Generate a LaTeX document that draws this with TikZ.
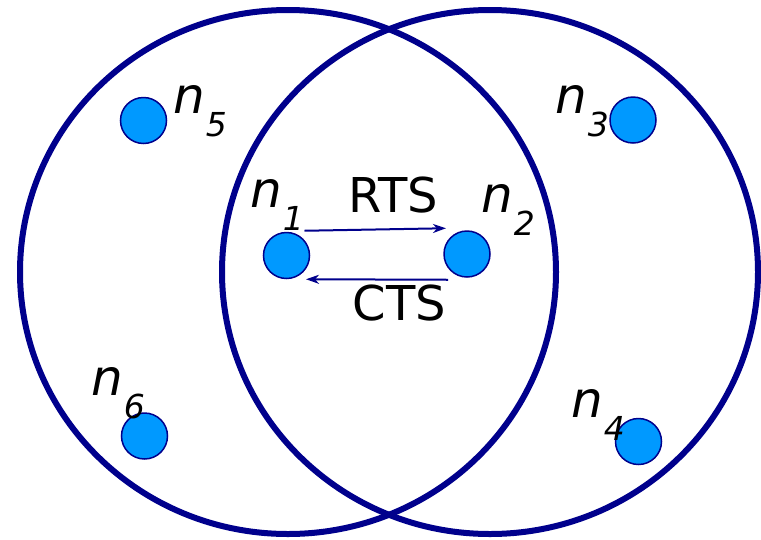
\documentclass[tikz,border=0pt]{standalone}
\usepackage{fontspec}
\setmainfont{DejaVu Sans}
\usepackage{tikz}
\usetikzlibrary{arrows.meta}
\definecolor{rangeblue}{RGB}{0,0,140}
\definecolor{dotblue}{RGB}{0,153,255}
\tikzset{station/.style={circle, draw=rangeblue, line width=1.5pt, fill=dotblue, minimum size=46pt, inner sep=0pt},
  msg/.style={draw=rangeblue, line width=2pt, -{Stealth[length=13pt, width=9pt, inset=4pt]}},
  tag/.style={anchor=base west, inner sep=0pt}}
\newcommand{\nlab}[1]{{\fontsize{50}{50}\selectfont\itshape n}\kern1pt\raisebox{-23pt}{\fontsize{33}{33}\selectfont\itshape #1}}

\begin{document}
\begin{tikzpicture}[x=1pt, y=-1pt]
\useasboundingbox (0,0) rectangle (761,539);
\draw[rangeblue, line width=6pt] (288,272) ellipse [x radius=268pt, y radius=262pt];
\draw[rangeblue, line width=6pt] (490,272) ellipse [x radius=268pt, y radius=262pt];
\node[station] (n1) at (286.5,255.5) {}; \node[tag] (l1) at (250,207) {\nlab{1}};
\node[station] (n2) at (467,254) {}; \node[tag] (l2) at (481,212) {\nlab{2}};
\node[station] (n3) at (633,120) {}; \node[tag] (l3) at (555,113) {\nlab{3}};
\node[station] (n4) at (638.5,441.5) {}; \node[tag] (l4) at (571,417) {\nlab{4}};
\node[station] (n5) at (143.5,120.5) {}; \node[tag] (l5) at (173,113) {\nlab{5}};
\node[station] (n6) at (144.5,436) {}; \node[tag] (l6) at (91,395) {\nlab{6}};
\draw[msg] ([xshift=18pt,yshift=1pt]n1.north) -- ([xshift=-21pt,yshift=2pt]n2.north);
\node[anchor=base, inner sep=0pt, font=\fontsize{48}{48}\selectfont] (rts) at (393,212) {RTS};
\draw[msg] ([xshift=-19pt,yshift=-2pt]n2.south) -- ([xshift=19.5pt]n1.south);
\node[anchor=base, inner sep=0pt, font=\fontsize{48}{48}\selectfont] (cts) at (399.5,320) {CTS};
\end{tikzpicture}
\end{document}
